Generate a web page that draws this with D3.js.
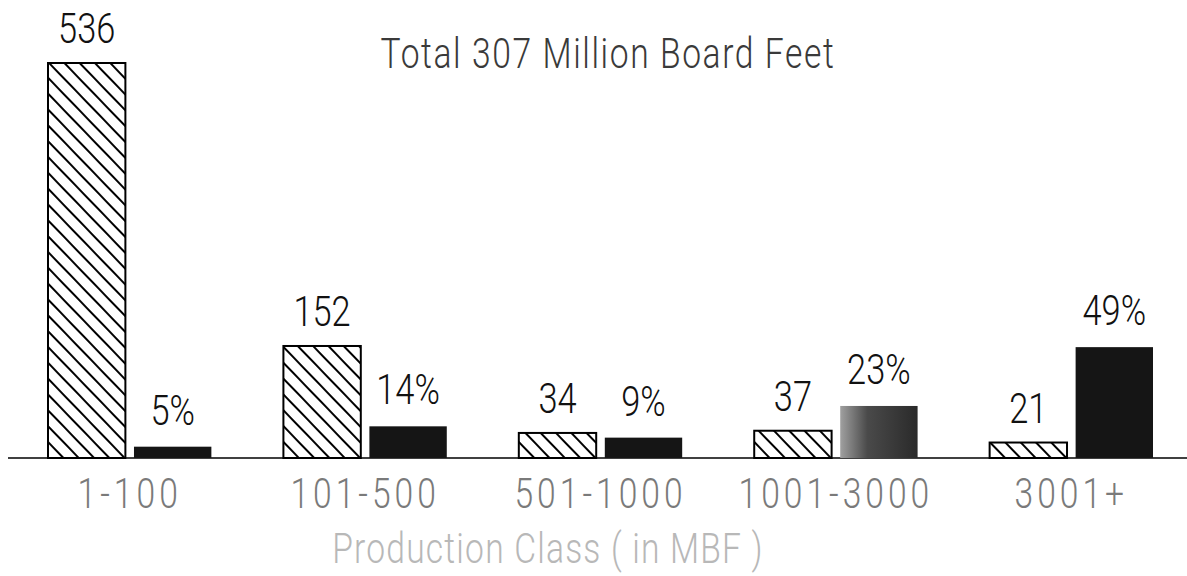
<!DOCTYPE html>
<meta charset="utf-8">
<style>

body {
  margin: 0;
  background: #fff;
}

text {
  font-family: Roboto, "DejaVu Sans", sans-serif;
  font-weight: 300;
  transform-box: fill-box;
  transform-origin: center;
  transform: scaleX(0.8);
}

.bars rect.count {
  stroke: #000;
  stroke-width: 2px;
}

</style>
<svg id="chart" width="1187" height="576"></svg>
<script src="https://cdn.jsdelivr.net/npm/d3@7"></script>
<script>
// production classes (MBF) and the two series
var classes = ["1-100", "101-500", "501-1000", "1001-3000", "3001+"];
var producerCounts = [536, 152, 34, 37, 21];
var volumeShares = [5, 14, 9, 23, 49];   // % of total volume
var totalVolume = 307;                    // million board feet

var svg = d3.select("#chart"),
    width = +svg.attr("width"),
    height = +svg.attr("height");

var baseY = 458;

var x0 = d3.scaleBand()
    .domain(classes)
    .range([48, 1153])
    .paddingInner(0.306)
    .paddingOuter(0);

var x1 = d3.scaleBand()
    .domain(["count", "pct"])
    .range([0, x0.bandwidth()])
    .paddingInner(0.1);

// one scale: producer count and volume (million bd ft) share the same units on the plot
var y = d3.scaleLinear()
    .domain([0, d3.max(producerCounts)])
    .range([baseY, 63]);

var defs = svg.append("defs");

var hatch = defs.append("pattern")
    .attr("id", "hatch")
    .attr("patternUnits", "userSpaceOnUse")
    .attr("width", 11)
    .attr("height", 11)
    .attr("patternTransform", "rotate(-44)");
hatch.append("rect").attr("width", 11).attr("height", 11).attr("fill", "#fff");
hatch.append("line")
    .attr("x1", 0).attr("y1", 0).attr("x2", 0).attr("y2", 11)
    .attr("stroke", "#000").attr("stroke-width", 4);

var fade = defs.append("linearGradient")
    .attr("id", "fade")
    .attr("x1", "0%").attr("x2", "100%").attr("y1", "0%").attr("y2", "0%");
fade.append("stop").attr("offset", "0%").attr("stop-color", "#a0a0a0");
fade.append("stop").attr("offset", "35%").attr("stop-color", "#4a4a4a");
fade.append("stop").attr("offset", "100%").attr("stop-color", "#2a2a2a");

var rows = classes.map(function(c, i) {
  return {cls: c, count: producerCounts[i], share: volumeShares[i],
          volume: volumeShares[i] / 100 * totalVolume};
});

// baseline
svg.append("line")
    .attr("x1", 8).attr("x2", width)
    .attr("y1", baseY).attr("y2", baseY)
    .attr("stroke", "#000")
    .attr("stroke-width", 1.6);

var g = svg.append("g").attr("class", "bars")
  .selectAll("g")
  .data(rows)
  .enter().append("g")
    .attr("transform", function(d) { return "translate(" + x0(d.cls) + ",0)"; });

g.append("rect")
    .attr("class", "count")
    .attr("x", x1("count"))
    .attr("width", x1.bandwidth())
    .attr("y", function(d) { return y(d.count); })
    .attr("height", function(d) { return baseY - y(d.count); })
    .attr("fill", "url(#hatch)");

g.append("rect")
    .attr("class", "pct")
    .attr("x", x1("pct"))
    .attr("width", x1.bandwidth())
    .attr("y", function(d) { return y(d.volume); })
    .attr("height", function(d) { return baseY - y(d.volume); })
    .attr("fill", function(d) { return d.cls == "1001-3000" ? "url(#fade)" : "#151515"; });

g.append("text")
    .attr("x", x1("count") + x1.bandwidth() / 2)
    .attr("y", function(d) { return y(d.count) - 20; })
    .attr("text-anchor", "middle")
    .attr("font-size", 43)
    .attr("fill", "#111")
    .text(function(d) { return d.count; });

g.append("text")
    .attr("x", x1("pct") + x1.bandwidth() / 2)
    .attr("y", function(d) { return y(d.volume) - 22; })
    .attr("text-anchor", "middle")
    .attr("font-size", 43)
    .attr("fill", "#111")
    .text(function(d) { return d.share + "%"; });

// category labels
var axis = svg.append("g")
    .attr("transform", "translate(0," + baseY + ")")
    .call(d3.axisBottom(x0).tickSize(0));
axis.select(".domain").remove();
axis.selectAll("text")
    .attr("font-size", 42)
    .attr("letter-spacing", 5)
    .attr("fill", "#7a7a7a")
    .attr("dy", 0)
    .attr("y", 50)
    .style("font-family", null);

svg.append("text")
    .attr("x", 608)
    .attr("y", 68)
    .attr("text-anchor", "middle")
    .attr("font-size", 42)
    .attr("letter-spacing", 2)
    .attr("fill", "#3a3a3a")
    .text("Total 307 Million Board Feet");

svg.append("text")
    .attr("x", 548)
    .attr("y", 563)
    .attr("text-anchor", "middle")
    .attr("font-size", 42)
    .attr("letter-spacing", 1.5)
    .attr("fill", "#b8b8b8")
    .attr("xml:space", "preserve")
    .text("Production Class ( in MBF )");

</script>
